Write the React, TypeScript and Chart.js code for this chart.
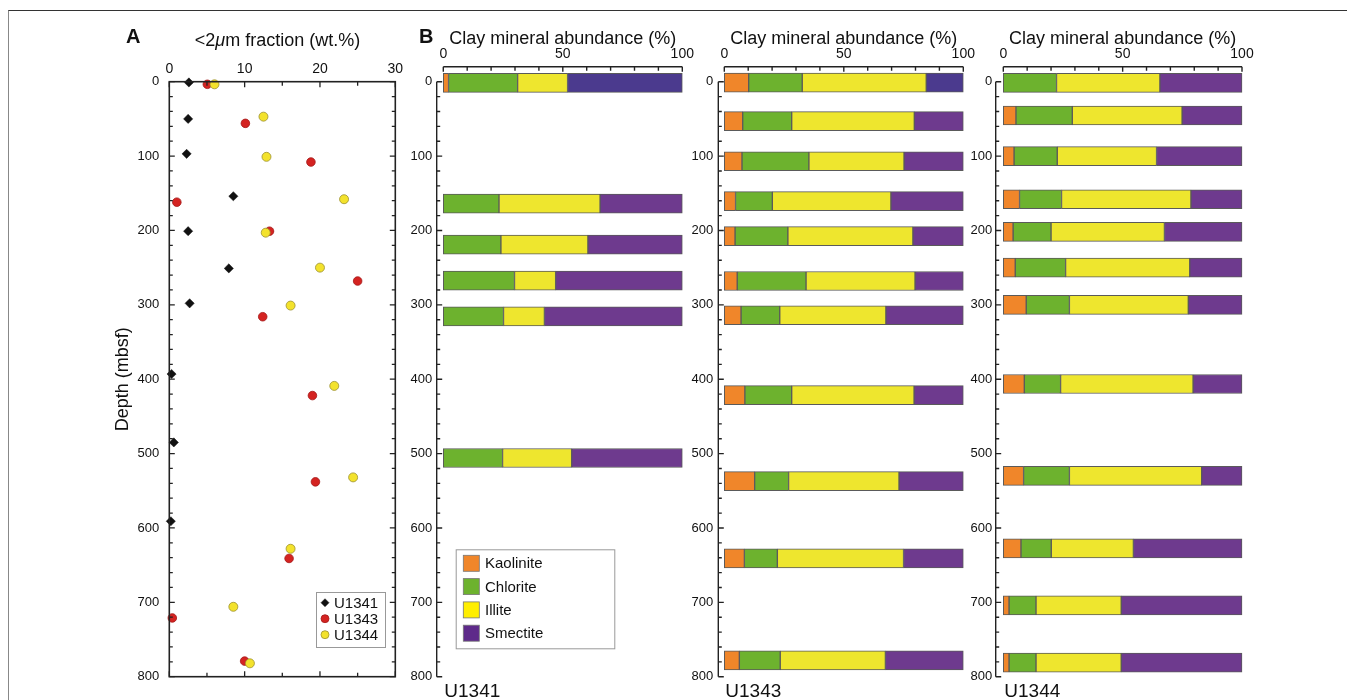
import React, { useEffect, useRef } from "react";
import { Chart, registerables } from "chart.js";

Chart.register(...registerables);

const FONT = "'Liberation Sans', Arial, Helvetica, sans-serif";
Chart.defaults.font.family = FONT;
Chart.defaults.color = "#111";

// ---------- Panel A: <2 µm fraction (wt.%) vs depth ----------
const depthU1341 = [1, 50, 97, 154, 201, 251, 298, 393, 485, 591];
const fracU1341 = [2.6, 2.5, 2.3, 8.5, 2.5, 7.9, 2.7, 0.3, 0.6, 0.2];
const depthU1343 = [3.5, 56, 108, 162, 201, 268, 316, 422, 538, 641, 721, 779];
const fracU1343 = [5.05, 10.1, 18.8, 1.0, 13.3, 25.0, 12.4, 19.0, 19.4, 15.9, 0.4, 10.0];
const depthU1344 = [3.5, 47, 101, 158, 203, 250, 301, 409, 532, 628, 706, 782];
const fracU1344 = [6.0, 12.5, 12.9, 23.2, 12.8, 20.0, 16.1, 21.9, 24.4, 16.1, 8.5, 10.7];
const fracTicks = [0, 10, 20, 30];
const depthTicks = [0, 100, 200, 300, 400, 500, 600, 700, 800];

// ---------- Panel B: clay mineral abundance (%) ----------
const minerals = ["Kaolinite", "Chlorite", "Illite", "Smectite"];
const abundanceTicks = [0, 50, 100];

const u1341Depth = [1.5, 164, 219, 267.5, 315.6, 506];
const u1341Kaolinite = [2.2, 0, 0, 0, 0, 0];
const u1341Chlorite = [28.9, 23.3, 24.1, 29.8, 25.2, 24.8];
const u1341Illite = [20.9, 42.3, 36.4, 17.2, 17.1, 28.9];
const u1341Smectite = [48.0, 34.4, 39.5, 53.0, 57.7, 46.3];

const u1343Depth = [1.3, 53, 107, 160.5, 207.6, 268, 314, 421.5, 537, 641, 778];
const u1343Kaolinite = [10.2, 7.7, 7.4, 4.7, 4.5, 5.4, 7.0, 8.6, 12.7, 8.4, 6.3];
const u1343Chlorite = [22.4, 20.5, 28.0, 15.4, 22.1, 28.8, 16.2, 19.6, 14.2, 13.8, 17.1];
const u1343Illite = [51.9, 51.3, 39.8, 49.6, 52.3, 45.6, 44.4, 51.2, 46.2, 52.8, 44.0];
const u1343Smectite = [15.5, 20.5, 24.8, 30.3, 21.1, 20.2, 32.4, 20.6, 26.9, 25.0, 32.6];

const u1344Depth = [1.5, 45.4, 100, 158, 202, 250, 300, 406.5, 530, 627.5, 704, 781];
const u1344Kaolinite = [0, 5.3, 4.5, 6.8, 4.1, 5.0, 9.6, 8.8, 8.5, 7.4, 2.4, 2.4];
const u1344Chlorite = [22.3, 23.6, 18.1, 17.6, 15.9, 21.1, 18.1, 15.2, 19.2, 12.7, 11.3, 11.3];
const u1344Illite = [43.3, 46.0, 41.6, 54.2, 47.5, 52.0, 49.8, 55.5, 55.4, 34.4, 35.7, 35.7];
const u1344Smectite = [34.4, 25.1, 35.8, 21.4, 32.5, 21.9, 22.5, 20.5, 16.9, 45.5, 50.6, 50.6];

const mineralColors = ["#F0862A", "#6DB22E", "#EEE62E", "#6E3A8E"];
const smectiteTopColor = "#4B3A8E";
const legendColors = ["#F0862A", "#6DB22E", "#FFEE00", "#5E2A8A"];

const AX = "#222";

function PanelA() {
  const ref = useRef<HTMLCanvasElement | null>(null);
  useEffect(() => {
    const canvas = ref.current!;
    const plugin = {
      id: "panelAExtras",
      afterDraw(chart: any) {
        const { ctx, chartArea: ca, scales } = chart;
        const xs = scales.x;
        const ys = scales.y;
        ctx.save();
        ctx.strokeStyle = AX;
        ctx.lineWidth = 1.6;
        ctx.strokeRect(ca.left, ca.top, ca.right - ca.left, ca.bottom - ca.top);
        ctx.lineWidth = 1.3;
        ctx.beginPath();
        for (let v = 0; v <= 800; v += 20) {
          const py = ys.getPixelForValue(v);
          const len = v % 100 === 0 ? 5.5 : 3.5;
          ctx.moveTo(ca.left, py);
          ctx.lineTo(ca.left + len, py);
          ctx.moveTo(ca.right, py);
          ctx.lineTo(ca.right - len, py);
        }
        for (let v = 0; v <= 30; v += 5) {
          const px = xs.getPixelForValue(v);
          const len = v % 10 === 0 ? 5.5 : 4;
          ctx.moveTo(px, ca.top);
          ctx.lineTo(px, ca.top + len);
          ctx.moveTo(px, ca.bottom);
          ctx.lineTo(px, ca.bottom - len);
        }
        ctx.stroke();

        // axis title with italic mu
        const parts = [
          { t: "<2", f: `18px ${FONT}` },
          { t: "\u03BC", f: `italic 18px ${FONT}` },
          { t: "m fraction (wt.%)", f: `18px ${FONT}` },
        ];
        let total = 0;
        parts.forEach((p) => {
          ctx.font = p.f;
          total += ctx.measureText(p.t).width;
        });
        let x = 177.5 - total / 2;
        ctx.fillStyle = "#111";
        ctx.textBaseline = "alphabetic";
        ctx.textAlign = "left";
        parts.forEach((p) => {
          ctx.font = p.f;
          ctx.fillText(p.t, x, 25.5);
          x += ctx.measureText(p.t).width;
        });

        // panel letter
        ctx.font = `bold 20px ${FONT}`;
        ctx.fillText("A", 26, 23);

        // legend
        const lx = 216, ly = 572, lw = 69, lh = 55;
        ctx.fillStyle = "#fff";
        ctx.fillRect(lx, ly, lw, lh);
        ctx.strokeStyle = "#999";
        ctx.lineWidth = 1;
        ctx.strokeRect(lx + 0.5, ly + 0.5, lw, lh);
        const rows = [582.7, 598.7, 614.7];
        chart.data.datasets.forEach((ds: any, i: number) => {
          const cy = rows[i];
          ctx.fillStyle = ds.backgroundColor;
          ctx.strokeStyle = ds.borderColor;
          ctx.lineWidth = ds.borderWidth;
          ctx.beginPath();
          if (ds.pointStyle === "rectRot") {
            const r = 4;
            ctx.moveTo(225 - r, cy);
            ctx.lineTo(225, cy - r);
            ctx.lineTo(225 + r, cy);
            ctx.lineTo(225, cy + r);
            ctx.closePath();
          } else {
            ctx.arc(225, cy, 4, 0, Math.PI * 2);
          }
          ctx.fill();
          ctx.stroke();
          ctx.fillStyle = "#111";
          ctx.font = `15px ${FONT}`;
          ctx.textBaseline = "middle";
          ctx.fillText(ds.label, 234, cy + 1);
        });
        ctx.restore();
      },
    };
    const chart = new Chart(canvas, {
      type: "scatter",
      data: {
        datasets: [
          {
            label: "U1341",
            data: depthU1341.map((d, i) => ({ x: fracU1341[i], y: d })),
            pointStyle: "rectRot",
            pointRadius: 4.6,
            backgroundColor: "#111",
            borderColor: "#111",
            borderWidth: 0.5,
            order: 0,
            clip: false,
          },
          {
            label: "U1343",
            data: depthU1343.map((d, i) => ({ x: fracU1343[i], y: d })),
            pointStyle: "circle",
            pointRadius: 4.3,
            backgroundColor: "#D42321",
            borderColor: "#A31818",
            borderWidth: 0.8,
            order: 2,
            clip: false,
          },
          {
            label: "U1344",
            data: depthU1344.map((d, i) => ({ x: fracU1344[i], y: d })),
            pointStyle: "circle",
            pointRadius: 4.5,
            backgroundColor: "#F3E22C",
            borderColor: "#9C9030",
            borderWidth: 0.8,
            order: 1,
            clip: false,
          },
        ] as any,
      },
      options: {
        responsive: false,
        animation: false,
        events: [],
        layout: { padding: { left: 0, top: 0, right: 14.7, bottom: 23.3 } },
        plugins: { legend: { display: false }, tooltip: { enabled: false } },
        scales: {
          x: {
            type: "linear",
            position: "top",
            min: 0,
            max: 30,
            offset: false,
            grid: { display: false, drawTicks: false },
            border: { display: false },
            afterBuildTicks: (s: any) => {
              s.ticks = fracTicks.map((v) => ({ value: v }));
            },
            ticks: { font: { size: 14 }, color: "#111", padding: 4.2, autoSkip: false, maxRotation: 0 },
            afterFit: (s: any) => {
              s.height = 61.7;
            },
          },
          y: {
            type: "linear",
            position: "left",
            reverse: true,
            min: 0,
            max: 800,
            offset: false,
            grid: { display: false, drawTicks: false },
            border: { display: false },
            afterBuildTicks: (s: any) => {
              s.ticks = depthTicks.map((v) => ({ value: v }));
            },
            ticks: { font: { size: 13 }, color: "#111", padding: 10, autoSkip: false },
            title: { display: true, text: "Depth (mbsf)", font: { size: 18 }, color: "#111", padding: { top: 12, bottom: 0 } },
            afterFit: (s: any) => {
              s.width = 69.3;
            },
          },
        },
      } as any,
      plugins: [plugin],
    });
    return () => chart.destroy();
  }, []);
  return (
    <canvas
      ref={ref}
      width={310}
      height={680}
      style={{ position: "absolute", left: 100, top: 20, width: 310, height: 680 }}
    />
  );
}

type PanelBProps = {
  left: number;
  site: string;
  depth: number[];
  kaolinite: number[];
  chlorite: number[];
  illite: number[];
  smectite: number[];
  blueTop: boolean;
  rightPad: number;
  axisGap: number;
  showLegend?: boolean;
  letter?: string;
};

const B_CANVAS_W = 320;

function PanelB(props: PanelBProps) {
  const ref = useRef<HTMLCanvasElement | null>(null);
  useEffect(() => {
    const canvas = ref.current!;
    const series = [props.kaolinite, props.chlorite, props.illite, props.smectite];
    const plugin = {
      id: "panelBExtras",
      afterDraw(chart: any) {
        const { ctx, chartArea: ca, scales } = chart;
        const xs = scales.x;
        const ys = scales.y;
        ctx.save();
        ctx.strokeStyle = AX;
        ctx.lineWidth = 1.4;
        ctx.beginPath();
        const axY = ca.top - 15;
        ctx.moveTo(xs.getPixelForValue(0), axY);
        ctx.lineTo(xs.getPixelForValue(100), axY);
        for (let v = 0; v <= 100; v += 10) {
          const px = xs.getPixelForValue(v);
          ctx.moveTo(px, axY);
          ctx.lineTo(px, axY + (v % 50 === 0 ? 5 : 4));
        }
        const axX = ca.left - props.axisGap;
        ctx.moveTo(axX, ys.getPixelForValue(0));
        ctx.lineTo(axX, ys.getPixelForValue(800));
        for (let v = 0; v <= 800; v += 20) {
          const py = ys.getPixelForValue(v);
          ctx.moveTo(axX, py);
          ctx.lineTo(axX + (v % 100 === 0 ? 5.5 : 3.5), py);
        }
        ctx.stroke();

        ctx.fillStyle = "#111";
        ctx.textAlign = "left";
        ctx.textBaseline = "alphabetic";
        ctx.font = `19px ${FONT}`;
        ctx.fillText(props.site, ca.left + 1, 677);
        if (props.letter) {
          ctx.font = `bold 20px ${FONT}`;
          ctx.fillText(props.letter, 24, 23);
        }
        if (props.showLegend) {
          const lx = 60.7, ly = 529.3, lw = 158.6, lh = 99;
          ctx.fillStyle = "#fff";
          ctx.fillRect(lx, ly, lw, lh);
          ctx.strokeStyle = "#999";
          ctx.lineWidth = 1;
          ctx.strokeRect(lx + 0.5, ly + 0.5, lw, lh);
          const rows = [543.3, 566.6, 589.9, 613.2];
          chart.data.datasets.forEach((ds: any, i: number) => {
            const cy = rows[i];
            ctx.fillStyle = legendColors[i];
            ctx.fillRect(68.3, cy - 8, 16, 16);
            ctx.strokeStyle = "#777";
            ctx.lineWidth = 0.8;
            ctx.strokeRect(68.3, cy - 8, 16, 16);
            ctx.fillStyle = "#111";
            ctx.font = `15px ${FONT}`;
            ctx.textBaseline = "middle";
            ctx.fillText(ds.label, 90, cy + 1);
          });
        }
        ctx.restore();
      },
    };
    const datasets = minerals.map((name, k) => ({
      label: name,
      data: props.depth.map((d, i) => ({ x: series[k][i] > 0 ? series[k][i] : null, y: d })),
      backgroundColor:
        k === 3
          ? props.depth.map((_, i) => (props.blueTop && i === 0 ? smectiteTopColor : mineralColors[3]))
          : mineralColors[k],
      borderColor: "#5a5a5a",
      borderWidth: 1,
      borderSkipped: false,
      barThickness: 19,
      clip: false,
    }));
    const chart = new Chart(canvas, {
      type: "bar",
      data: { datasets } as any,
      options: {
        responsive: false,
        animation: false,
        events: [],
        indexAxis: "y",
        layout: { padding: { left: 0, top: 0, right: props.rightPad, bottom: 23.3 } },
        plugins: { legend: { display: false }, tooltip: { enabled: false } },
        scales: {
          x: {
            type: "linear",
            position: "top",
            min: 0,
            max: 100,
            stacked: true,
            offset: false,
            grid: { display: false, drawTicks: false, offset: false },
            border: { display: false },
            afterBuildTicks: (s: any) => {
              s.ticks = abundanceTicks.map((v) => ({ value: v }));
            },
            ticks: { font: { size: 14 }, color: "#111", padding: 19, autoSkip: false, maxRotation: 0 },
            title: {
              display: true,
              text: "Clay mineral abundance (%)",
              font: { size: 18 },
              color: "#111",
              padding: { top: 8.5, bottom: 0 },
            },
            afterFit: (s: any) => {
              s.height = 61.7;
            },
          },
          y: {
            type: "linear",
            position: "left",
            reverse: true,
            min: 0,
            max: 800,
            stacked: true,
            offset: false,
            grid: { display: false, drawTicks: false, offset: false },
            border: { display: false },
            afterBuildTicks: (s: any) => {
              s.ticks = depthTicks.map((v) => ({ value: v }));
            },
            ticks: { font: { size: 13 }, color: "#111", padding: 11, autoSkip: false },
            afterFit: (s: any) => {
              s.width = 48.3;
            },
          },
        },
      } as any,
      plugins: [plugin],
    });
    return () => chart.destroy();
  }, []);
  return (
    <canvas
      ref={ref}
      width={B_CANVAS_W}
      height={680}
      style={{ position: "absolute", left: props.left, top: 20, width: B_CANVAS_W, height: 680 }}
    />
  );
}

export default function App() {
  return (
    <div
      style={{
        position: "absolute",
        left: 0,
        top: 0,
        width: 1347,
        height: 700,
        background: "#fff",
        overflow: "hidden",
      }}
    >
      <div
        style={{
          position: "absolute",
          left: 8,
          top: 10,
          width: 1345,
          height: 700,
          borderTop: "1px solid #333",
          borderLeft: "1.5px solid #888",
        }}
      />
      <PanelA />
      <PanelB
        left={395}
        site="U1341"
        depth={u1341Depth}
        kaolinite={u1341Kaolinite}
        chlorite={u1341Chlorite}
        illite={u1341Illite}
        smectite={u1341Smectite}
        blueTop={true}
        rightPad={32.7}
        axisGap={6.6}
        showLegend={true}
        letter="B"
      />
      <PanelB
        left={676}
        site="U1343"
        depth={u1343Depth}
        kaolinite={u1343Kaolinite}
        chlorite={u1343Chlorite}
        illite={u1343Illite}
        smectite={u1343Smectite}
        blueTop={true}
        rightPad={32.7}
        axisGap={6}
        showLegend={false}
      />
      <PanelB
        left={955}
        site="U1344"
        depth={u1344Depth}
        kaolinite={u1344Kaolinite}
        chlorite={u1344Chlorite}
        illite={u1344Illite}
        smectite={u1344Smectite}
        blueTop={false}
        rightPad={33}
        axisGap={7.6}
        showLegend={false}
      />
    </div>
  );
}
